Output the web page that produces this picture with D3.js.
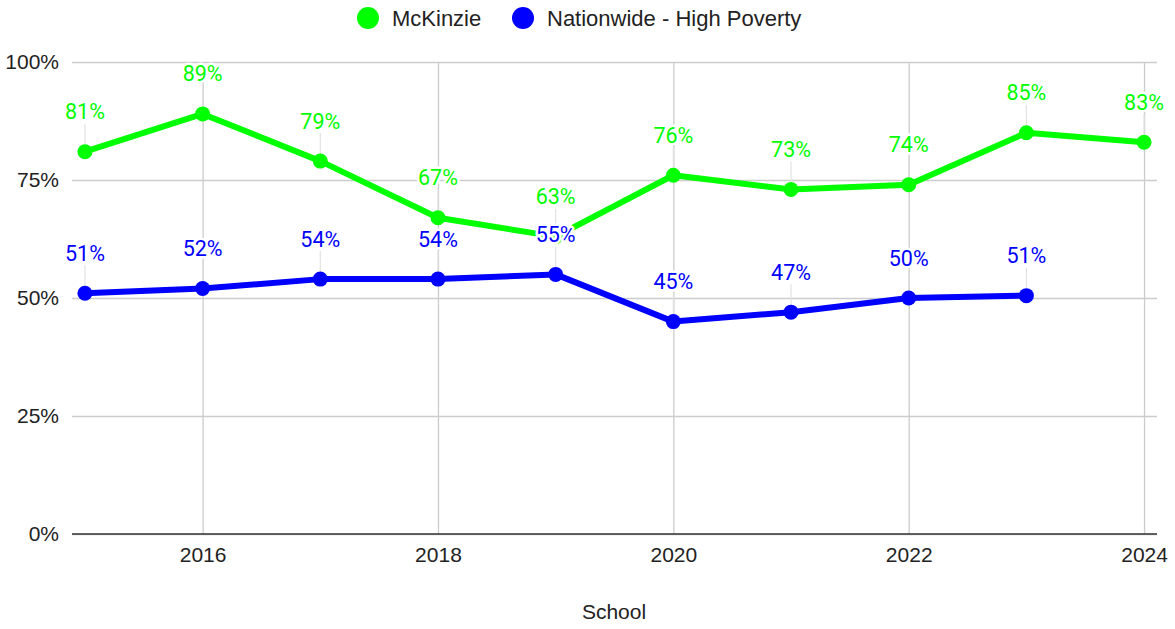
<!DOCTYPE html>
<html><head><meta charset="utf-8">
<script src="https://cdn.jsdelivr.net/npm/d3@7"></script>
<style>body{margin:0;background:#fff;overflow:hidden}</style>
</head><body><svg id="c" width="1175" height="629"></svg>
<script>
const years = [2015, 2016, 2017, 2018, 2019, 2020, 2021, 2022, 2023, 2024];
const mckinzie = [81, 89, 79, 67, 63, 76, 73, 74, 85, 83];
const nationwide = [51, 52, 54, 54, 55, 45, 47, 50, 50.5];
const seriesNames = ["McKinzie", "Nationwide - High Poverty"];
const seriesColors = ["#00ff00", "#0000ff"];
const yTicks = [0, 25, 50, 75, 100];
const xTicks = [2016, 2018, 2020, 2022, 2024];
const xTitle = "School";

const svg = d3.select("#c");
const L = 72, R = 1157, T = 62, B = 534;
const x = d3.scaleLinear().domain([2014.89, 2024.11]).range([L, R]);
const y = d3.scaleLinear().domain([0, 100]).range([B, T]);
const axisFont = "'Liberation Sans', Arial, sans-serif";
const labelFont = "Roboto, 'Noto Sans', sans-serif";

// horizontal gridlines + y labels via axis
const yAxis = svg.append("g").attr("transform", `translate(${L},0)`)
  .call(d3.axisLeft(y).tickValues(yTicks).tickSize(-(R - L)).tickPadding(13).tickFormat(d => d + "%"));
yAxis.select(".domain").remove();
yAxis.selectAll(".tick line").attr("stroke", "#cccccc").attr("stroke-width", 1.3);
yAxis.selectAll(".tick text").attr("font-family", axisFont).attr("font-size", 21).attr("fill", "#222");

// vertical gridlines + x labels
const xAxis = svg.append("g").attr("transform", `translate(0,${B})`)
  .call(d3.axisBottom(x).tickValues(xTicks).tickSize(-(B - T)).tickPadding(13).tickFormat(d3.format("d")));
xAxis.select(".domain").remove();
xAxis.selectAll(".tick line").attr("stroke", "#cccccc").attr("stroke-width", 1.3);
xAxis.selectAll(".tick text").attr("font-family", axisFont).attr("font-size", 21).attr("fill", "#222");

// baseline
svg.append("line").attr("x1", L).attr("x2", R).attr("y1", y(0)).attr("y2", y(0))
  .attr("stroke", "#333").attr("stroke-width", 1.6);

const series = [mckinzie, nationwide].map((vals, i) => ({
  name: seriesNames[i], color: seriesColors[i],
  pts: vals.map((v, j) => ({ x: years[j], v }))
}));

// leader lines
series.forEach(s => {
  svg.append("g").selectAll("line").data(s.pts).join("line")
    .attr("x1", d => x(d.x)).attr("x2", d => x(d.x))
    .attr("y1", d => y(d.v) - 28).attr("y2", d => y(d.v))
    .attr("stroke", "#e2e2e2").attr("stroke-width", 1.2);
});

const line = d3.line().x(d => x(d.x)).y(d => y(d.v));
series.forEach(s => {
  svg.append("path").datum(s.pts).attr("d", line).attr("fill", "none")
    .attr("stroke", s.color).attr("stroke-width", 6).attr("stroke-linejoin", "round");
  svg.append("g").selectAll("circle").data(s.pts).join("circle")
    .attr("cx", d => x(d.x)).attr("cy", d => y(d.v)).attr("r", 7.5).attr("fill", s.color);
});

// data labels
series.forEach(s => {
  svg.append("g").selectAll("text").data(s.pts).join("text")
    .attr("x", d => x(d.x)).attr("y", d => y(d.v) - 40)
    .attr("text-anchor", "middle").attr("dominant-baseline", "central")
    .attr("font-family", labelFont).attr("font-size", 21.5)
    .attr("fill", s.color).attr("stroke", "#fff").attr("stroke-width", 5)
    .attr("stroke-linejoin", "round").attr("paint-order", "stroke")
    .text(d => Math.round(d.v) + "%");
});

// legend
const legX = [368, 523];
series.forEach((s, i) => {
  svg.append("circle").attr("cx", legX[i]).attr("cy", 18).attr("r", 11).attr("fill", s.color);
  svg.append("text").attr("x", legX[i] + 24).attr("y", 18).attr("dominant-baseline", "central")
    .attr("font-family", axisFont).attr("font-size", 22).attr("fill", "#222").text(s.name);
});

// x title
svg.append("text").attr("x", 614).attr("y", 611).attr("text-anchor", "middle")
  .attr("dominant-baseline", "central").attr("font-family", axisFont).attr("font-size", 21)
  .attr("fill", "#222").text(xTitle);
</script></body></html>
